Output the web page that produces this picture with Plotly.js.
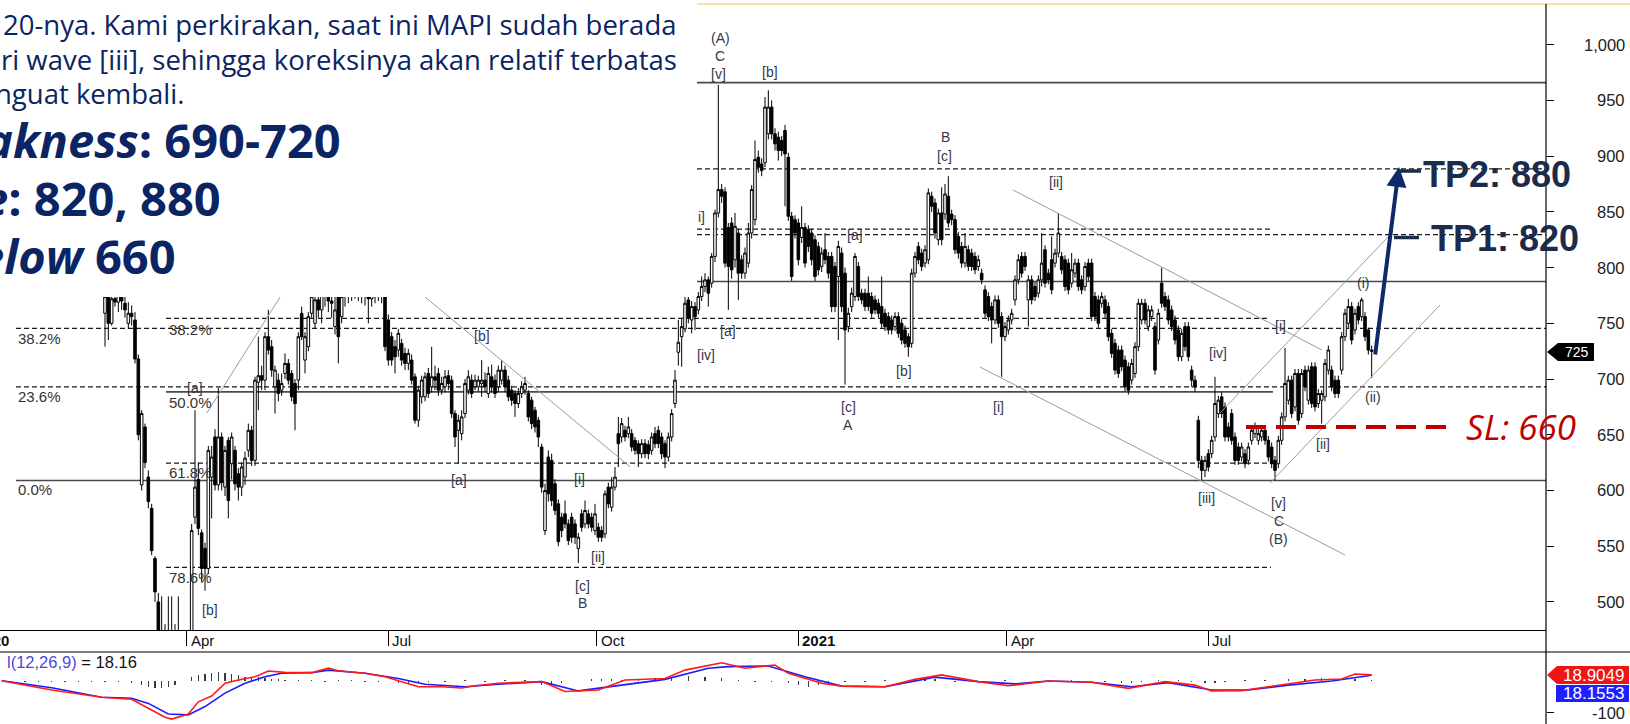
<!DOCTYPE html>
<html><head><meta charset="utf-8">
<script src="https://cdn.plot.ly/plotly-3.0.1.min.js"></script>
<style>html,body{margin:0;padding:0;background:#fff;overflow:hidden}#chart{width:1630px;height:724px}</style>
</head><body><div id="chart"></div>
<script>
// ---------------- DATA ----------------
// daily bars, consecutive sessions (bar index 0 = late Feb 2020)
const openP = [
759,774,750,772,769,775,768,750,759,753, 718,605,657,612,584,539,500,470,450,430,
470,440,455,440,445,450,470,576,610,562, 548,530,612,648,605,648,603,645,624,636,
615,603,612,636,654,627,697,703,699,738, 729,693,699,690,705,714,705,696,699,759,
717,729,759,750,771,762,775,780,770,747, 774,756,774,780,776,785,778,782,775,780,
772,778,774,780,778,753,738,729,726,732, 723,714,717,702,663,684,684,705,693,702,
705,690,693,703,699,669,654,651,669,690, 699,693,693,696,699,687,702,699,693,699,
708,699,690,687,678,687,690,687,681,672, 663,639,564,630,627,606,588,576,579,570,
576,570,548,579,570,579,576,564,567,564, 561,603,585,603,651,648,654,651,651,645,
642,633,642,641,636,651,654,648,642,630, 648,678,724,738,745,771,753,765,762,774,
783,789,786,810,849,870,868,836,840,807, 831,807,795,804,831,843,899,893,894,920,
944,920,917,914,923,899,846,843,840,827, 836,834,831,825,819,801,816,810,810,801,
792,813,795,747,765,774,801,777,777,777, 774,771,768,765,759,756,753,747,756,750,
744,738,732,795,819,813,804,807,864,858, 825,849,848,864,848,843,828,819,804,816,
813,810,801,795,780,774,765,753,771,756, 738,744,753,771,789,810,810,771,789,783,
777,789,816,795,807,804,813,810,807,804, 786,795,804,789,783,804,804,774,771,768,
771,765,741,732,726,726,717,711,699,705, 729,753,768,747,756,747,735,786,774,771,
762,753,744,720,747,747,708,699,663,627, 618,633,633,648,669,684,675,657,669,648,
639,630,633,627,645,651,645,648,654,645, 639,627,624,645,666,681,699,675,705,669,
708,681,711,711,678,681,684,708,708,699, 699,708,738,750,765,744,765,756,756,744,
726];
const highP = [
790,785,790,785,790,786,775,769,766,760, 722,672,660,618,588,541,508,505,480,505,
505,480,505,470,460,475,570,672,625,565, 553,640,640,655,692,652,640,648,652,640,
620,625,635,660,658,702,738,712,742,762, 735,712,705,705,723,718,708,700,742,765,
742,760,785,785,790,790,795,792,785,775, 785,790,795,795,800,798,795,792,790,790,
788,790,792,795,790,758,742,735,745,736, 728,727,722,705,694,703,706,710,729,712,
710,702,708,708,703,672,668,672,700,708, 704,704,703,717,706,711,713,704,712,717,
712,703,694,690,692,698,702,690,684,675, 666,642,606,636,633,610,592,580,591,574,
580,574,562,583,591,583,580,588,571,568, 600,607,612,621,666,665,658,666,655,648,
645,646,646,645,652,657,658,652,645,652, 673,708,753,755,776,776,770,769,778,792,
795,792,813,852,964,875,872,840,845,849, 835,811,818,840,874,914,905,898,953,959,
950,925,922,918,928,903,850,847,844,855, 840,838,835,829,823,818,831,814,814,805,
824,818,800,764,782,813,805,781,781,792, 778,775,772,792,763,760,757,760,760,754,
748,741,799,814,823,817,820,871,868,862, 853,872,875,882,852,847,832,823,831,820,
817,814,811,799,784,778,769,775,775,760, 751,757,763,793,812,814,814,793,793,787,
793,831,820,799,828,817,849,814,811,808, 813,808,808,793,805,808,808,778,775,778,
775,769,745,736,730,730,721,715,718,733, 772,772,772,766,766,751,763,800,778,775,
766,757,748,745,751,751,712,703,667,631, 631,637,649,702,685,688,679,661,673,652,
643,643,637,643,658,661,655,658,658,649, 643,631,649,670,728,703,703,709,709,709,
712,712,715,715,691,690,718,730,712,703, 703,742,763,772,769,763,769,773,760,746,
730];
const lowP = [
729,735,748,765,760,762,755,745,748,714, 645,600,620,584,542,500,460,440,420,415,
430,420,430,413,430,440,465,570,560,518, 510,525,575,600,600,600,595,575,610,600,
591,595,605,630,622,622,672,690,690,722, 702,669,680,685,700,695,680,654,690,735,
705,725,755,745,755,750,765,760,755,740, 714,750,765,768,770,772,770,768,766,750,
765,768,770,768,725,712,712,705,720,712, 708,708,695,660,657,678,680,683,688,690,
685,686,688,690,665,639,624,645,665,686, 683,690,689,684,688,683,688,683,688,695,
688,680,676,666,674,683,686,662,655,652, 639,598,560,590,586,578,550,558,566,551,
553,552,535,563,566,566,563,560,554,554, 557,584,581,600,621,643,644,647,635,632,
621,629,629,628,632,638,638,628,620,626, 644,674,712,711,742,750,741,744,758,770,
778,765,782,805,845,858,800,762,790,800, 771,790,790,800,826,838,885,882,890,915,
915,905,896,900,855,842,788,826,802,822, 800,814,802,788,793,796,803,790,760,760,
735,760,695,742,760,770,770,767,761,761, 755,758,755,746,743,740,740,743,737,731,
728,720,728,791,803,797,800,803,850,826, 820,820,843,836,838,812,808,800,800,797,
797,794,797,785,755,752,732,749,746,702, 734,740,749,766,785,791,797,747,767,770,
773,783,782,785,776,800,809,794,779,776, 782,791,779,776,779,788,752,752,746,764,
755,734,719,704,701,707,689,686,695,701, 725,749,749,743,752,704,731,764,761,749,
743,731,716,716,725,716,693,688,620,609, 612,617,629,644,665,665,644,644,641,623,
623,626,620,623,641,647,641,644,641,626, 620,609,620,641,662,677,665,671,659,665,
689,677,674,671,674,660,680,704,689,683, 683,704,734,746,731,740,749,752,734,722,
701];
const closeP = [
774,750,772,769,775,770,762,759,756,718, 650,669,625,590,546,509,470,450,430,470,
440,460,440,445,450,470,564,603,566,530, 530,636,630,605,648,607,636,591,648,606,
603,621,629,654,627,699,703,699,738,726, 708,708,687,696,714,699,684,678,738,738,
738,756,774,771,762,775,780,770,768,762, 738,774,780,776,785,778,782,775,780,772,
778,774,780,776,729,717,717,720,741,717, 714,723,699,663,690,699,702,687,702,699,
690,696,702,696,669,648,663,666,696,702, 687,699,699,699,693,705,693,687,708,708,
693,684,681,678,687,693,696,666,660,657, 648,603,600,597,591,582,554,564,570,555,
558,558,558,567,582,570,567,579,558,558, 597,588,603,612,642,660,648,657,639,636,
633,642,633,633,648,642,642,633,630,648, 669,699,733,747,768,755,765,756,774,783,
789,777,810,849,870,864,804,801,798,837, 795,795,813,831,870,897,890,887,944,944,
920,911,905,905,902,846,792,831,807,836, 804,819,807,792,798,813,807,795,765,765,
819,765,744,759,777,810,774,771,765,765, 759,762,759,750,747,744,744,756,741,735,
732,729,795,810,807,801,816,867,855,831, 849,825,866,840,843,816,813,804,819,801,
801,798,807,789,759,756,753,771,750,738, 747,753,759,789,807,795,801,789,771,774,
789,804,786,789,780,813,831,798,783,780, 798,804,783,780,801,792,756,756,750,774,
759,738,723,708,705,711,693,690,714,729, 768,768,753,762,762,708,759,768,765,753,
747,735,720,741,729,720,699,693,627,618, 627,621,645,678,681,669,648,648,645,627,
627,639,624,639,654,657,651,654,645,630, 624,618,645,666,696,699,669,705,663,705,
693,708,678,675,687,687,714,726,693,687, 687,738,759,765,735,759,753,771,738,726,
725];
const barIndex = closeP.map((_, i) => i);

// session index where each quarter starts, and its label
const quarterIdx = [24.5, 85, 147.5, 208, 270.5, 331];
const quarterLabels = ['Apr', 'Jul', 'Oct', '<b>2021</b>', 'Apr', 'Jul'];

// MACD(12,26,9)
const macdIdx = [-31,-16,-1,8,13,18,20,25,28,32,36,40,45,49,54,62,67,70,78,84,94,101,107,111,118,
  131,138,148,156,168,174,185,192,201,205,215,221,234,243,251,262,271,283,296,307,318,327,332,341,352,363,371,375,380];
const macdVal = [1,-28,-51,-57,-85,-113,-119,-103,-65,-47,-7,3,13,31,27,26,40,32,24,13,-18,-18,-22,-15,-7,
  -2,-33,-28,3,8,34,57,40,50,24,-7,-16,-18,5,19,-2,-15,0,-4,-23,-2,-13,-31,-30,-13,3,6,22,19];
const signalIdx = [-31,-16,-1,8,13,19,25,30,36,42,48,53,62,67,78,88,96,108,118,
  131,142,152,168,181,187,199,210,221,234,249,262,273,283,296,308,319,332,343,355,368,380];
const signalVal = [1,-21,-51,-54,-70,-103,-106,-80,-38,-7,13,24,26,34,24,8,-10,-18,-10,
  -2,-31,-18,5,40,45,47,13,-16,-18,12,-2,-9,0,-4,-18,-5,-28,-28,-13,0,18];
const histIdx = [-28,-24,-20,-16,-12,-8,-4,0,4,8, 11,13,15,17,19,21, 26,28,30,32,34,36,38,40,42,44,46,48,50,52,54,
  58,62,66,70,74,78,82, 88,91,94,97, 102,108,114,120,126, 131,134,137, 146,149,152,155, 160,165,170,175,180,185,190,
  195,200, 205,208,211,214,217, 222,228,234, 243,246,249, 255,262,270,280,290,300, 305,308,311, 316,322,326,
  330,333,336, 342,348,355,360,365,370,375,380];
const histVal = [-2,-2,-3,-3,-2,-2,-3,-2,-4,-6, -11,-18,-21,-21,-18,-11, 11,18,21,25,27,25,21,18,14,13,11,9,7,6,4,
  2,2,-2,2,2,-2,-2, -6,-7,-6,-4, -2,2,-2,2,2, -11,-11,-7, 7,7,6,4, 6,9,13,16,14,9,4,
  -2,-4, -7,-14,-18,-14,-9, -4,-2,2, 6,9,6, -2,-2,2,-2,2,-2, -6,-6,-4, 2,2,-2,
  -7,-7,-4, 2,4,6,7,9,7,6,2];

const priceTicks = [500, 550, 600, 650, 700, 750, 800, 850, 900, 950, 1000];
const priceTickText = ['500','550','600','650','700','750','800','850','900','950','1,000'];
const lastPrice = '725', macdLast = '18.9049', signalLast = '18.1553';
// analysis levels
const solidLevels = [966, 787.5, 688.5, 609];
const dashedLevels = [888.5, 834.5, 829.5, 754.5, 745.5, 693, 624.5, 531];
const stopLoss = 657;

// ---------------- LAYOUT HELPERS (pixel -> paper) ----------------
const W = 1630, H = 724, PR = 1546;
const px = x => x / PR;
const py = y => 1 - y / H;
const LBL = 'Liberation Sans, Arial, sans-serif';

const shapes = [];
const ann = [];
function hline(val, x0, x1, dash, color, width) {
  shapes.push({type:'line', xref:'paper', yref:'y', x0:px(x0), x1:px(x1), y0:val, y1:val,
    line:{color:color, width:width, dash:dash}, layer:'below'});
}
// level lines with their horizontal extents
hline(solidLevels[0], 697, 1546, 'solid', '#4a4a4a', 1.8);
hline(solidLevels[1], 697, 1546, 'solid', '#4a4a4a', 1.6);
hline(solidLevels[2], 166, 1273, 'solid', '#4a4a4a', 1.6);
hline(solidLevels[3], 16, 1546, 'solid', '#4a4a4a', 1.6);
const dashExt = [[697,1546],[697,1270],[697,1546],[166,1267],[16,1546],[16,1546],[166,1279],[166,1271]];
dashedLevels.forEach((v, k) => hline(v, dashExt[k][0], dashExt[k][1], '5px,3px', '#1a1a1a', 1.2));

// trend / channel lines
[[206.7,413.3,282,294],[425,297,630,466.7],[1013,190,1322,350],[980,367,1345,555],[1220,413,1388,237],[1270,483,1440,305]]
  .forEach(l => shapes.push({type:'line', xref:'paper', yref:'paper', x0:px(l[0]), y0:py(l[1]), x1:px(l[2]), y1:py(l[3]),
    line:{color:'#9c9c9c', width:1}, layer:'above'}));

// white panel over the top-left corner (slide text box)
shapes.push({type:'rect', xref:'paper', yref:'paper', x0:px(-5), x1:px(697), y0:py(297), y1:py(-5),
  fillcolor:'#ffffff', line:{width:0}, layer:'above'});
// frame lines
shapes.push({type:'line', xref:'paper', yref:'paper', x0:px(697), x1:px(1632), y0:py(4), y1:py(4), line:{color:'#f7d98c', width:1.6}, layer:'above'});
shapes.push({type:'line', xref:'paper', yref:'paper', x0:px(1546), x1:px(1546), y0:py(4), y1:py(726), line:{color:'#000', width:1.2}, layer:'above'});
shapes.push({type:'line', xref:'paper', yref:'paper', x0:px(-2), x1:px(1632), y0:py(652), y1:py(652), line:{color:'#000', width:1.2}, layer:'above'});

// stop loss line
shapes.push({type:'line', xref:'paper', yref:'y', x0:px(1246), x1:px(1456), y0:stopLoss, y1:stopLoss,
  line:{color:'#c00000', width:4, dash:'20px,10px'}, layer:'above'});
// TP ticks
shapes.push({type:'line', xref:'paper', yref:'paper', x0:px(1399), x1:px(1421), y0:py(171), y1:py(171), line:{color:'#1c2b4a', width:3.5}, layer:'above'});
shapes.push({type:'line', xref:'paper', yref:'paper', x0:px(1394), x1:px(1419), y0:py(237.5), y1:py(237.5), line:{color:'#1c2b4a', width:3.5}, layer:'above'});

// price / macd tags
function tagPath(tip, y0, y1, xl, xr) {
  const ym = (y0 + y1) / 2;
  return 'M ' + px(tip) + ' ' + py(ym) + ' L ' + px(xl) + ' ' + py(y0) + ' L ' + px(xr) + ' ' + py(y0) +
         ' L ' + px(xr) + ' ' + py(y1) + ' L ' + px(xl) + ' ' + py(y1) + ' Z';
}
shapes.push({type:'path', xref:'paper', yref:'paper', path:tagPath(1547, 343, 361, 1558, 1594), fillcolor:'#000', line:{width:0}, layer:'above'});
shapes.push({type:'path', xref:'paper', yref:'paper', path:tagPath(1547, 666, 684, 1557, 1629), fillcolor:'#f01414', line:{width:0}, layer:'above'});
shapes.push({type:'rect', xref:'paper', yref:'paper', x0:px(1556), x1:px(1629), y0:py(685), y1:py(702), fillcolor:'#1f1fff', line:{width:0}, layer:'above'});

function note(text, x, y, opts) {
  ann.push(Object.assign({text:text, xref:'paper', yref:'paper', x:px(x), y:py(y), showarrow:false,
    xanchor:'center', yanchor:'middle', font:{family:LBL, size:14, color:'#34384a'}}, opts || {}));
}

// slide text (left)
const navy = '#0b2463';
note('20-nya. Kami perkirakan, saat ini MAPI sudah berada', 679, 24, {xanchor:'right', font:{family:'Open Sans', size:27.5, color:navy}});
note('ri wave [iii], sehingga koreksinya akan relatif terbatas', 679, 59, {xanchor:'right', font:{family:'Open Sans', size:27.5, color:navy}});
note('nguat kembali.', 186, 94, {xanchor:'right', font:{family:'Open Sans', size:27.5, color:navy}});
note('<b><i>akness</i>: 690-720</b>', 343, 140, {xanchor:'right', font:{family:'Open Sans', size:47, color:navy}});
note('<b><i>e</i>: 820, 880</b>', 223, 198, {xanchor:'right', font:{family:'Open Sans', size:47, color:navy}});
note('<b><i>elow</i> 660</b>', 178, 256, {xanchor:'right', font:{family:'Open Sans', size:47, color:navy}});

// targets
note('<b>TP2: 880</b>', 1421, 174, {xanchor:'left', font:{family:LBL, size:36, color:'#1c2b4a'}});
note('<b>TP1: 820</b>', 1429, 238.5, {xanchor:'left', font:{family:LBL, size:36, color:'#1c2b4a'}});
note('<i>SL: 660</i>', 1464, 426, {xanchor:'left', font:{family:'Open Sans', size:35, color:'#c00000'}});
ann.push({text:'', xref:'paper', yref:'paper', x:px(1399), y:py(167), ax:-24, ay:189, showarrow:true,
  arrowhead:2, arrowsize:1, arrowwidth:4, arrowcolor:'#0c2a6b', standoff:0});

// wave labels
[['(A)',720,38.5],['C',720,56],['[v]',718,74],['[b]',770,72],['B',945,137],['[c]',944,156],['[ii]',1056,182],
 ['i]',701,217],['[a]',855,235],['[a]',728,331],['[iv]',706,355],['[b]',904,371],['[c]',848,407],['A',848,425],
 ['[i]',999,407],['[iv]',1218,353],['[i]',1280,326],['(i)',1363,283],['(ii)',1373,397],['[ii]',1323,444],
 ['[iii]',1206,498],['[v]',1278,503],['C',1279,521],['(B)',1278,539],['[b]',482,336],['[a]',459,480],
 ['[i]',579,479],['[ii]',598,557],['[c]',582,586],['B',582,603],['[a]',195,388],['[b]',210,610]]
  .forEach(w => note(w[0], w[1], w[2]));

// fibonacci labels
[['38.2%',16,338],['23.6%',16,396],['0.0%',16,489],['38.2%',167,329],['50.0%',167,402],['61.8%',167,472],['78.6%',167,577]]
  .forEach(f => note(f[0], f[1], f[2], {xanchor:'left', font:{family:LBL, size:15, color:'#333'}}));

// price axis labels (right aligned)
priceTicks.forEach((v, k) => ann.push({text:priceTickText[k], xref:'paper', yref:'y', x:px(1627), y:v,
  xanchor:'right', yanchor:'middle', showarrow:false, font:{family:LBL, size:16.5, color:'#222'}}));
ann.push({text:'-100', xref:'paper', yref:'y2', x:px(1627), y:-100, xanchor:'right', yanchor:'middle', showarrow:false,
  font:{family:LBL, size:16.5, color:'#222'}});
note(lastPrice, 1577, 352, {font:{family:LBL, size:14, color:'#fff'}});
note(macdLast, 1593, 675, {font:{family:LBL, size:17, color:'#fff'}});
note(signalLast, 1593, 693.5, {font:{family:LBL, size:17, color:'#fff'}});

// date labels
quarterIdx.forEach((q, k) => ann.push({text:quarterLabels[k], xref:'x', yref:'paper', x:q, y:py(640), xshift:2,
  xanchor:'left', yanchor:'middle', showarrow:false, font:{family:LBL, size:15, color:'#111'}}));
note('<b>2020</b>', 11, 640, {xanchor:'right', font:{family:LBL, size:15, color:'#111'}});
// MACD title
note('<span style="color:#4b48d8">l(12,26,9)</span> = 18.16', 139, 662, {xanchor:'right', font:{family:LBL, size:16.5, color:'#111'}});

// ---------------- TRACES ----------------
const traces = [
  {type:'candlestick', x:barIndex, open:openP, high:highP, low:lowP, close:closeP, xaxis:'x', yaxis:'y',
   increasing:{line:{color:'#000', width:1}, fillcolor:'#ffffff'},
   decreasing:{line:{color:'#000', width:1}, fillcolor:'#000000'},
   whiskerwidth:0, hoverinfo:'skip', showlegend:false},
  {type:'bar', x:histIdx, y:histVal, xaxis:'x', yaxis:'y2', width:0.35, marker:{color:'#3a3a3a', line:{width:0}},
   hoverinfo:'skip', showlegend:false},
  {type:'scatter', mode:'lines', x:signalIdx, y:signalVal, xaxis:'x', yaxis:'y2', line:{color:'#1a1aff', width:1.6},
   hoverinfo:'skip', showlegend:false},
  {type:'scatter', mode:'lines', x:macdIdx, y:macdVal, xaxis:'x', yaxis:'y2', line:{color:'#ff1a1a', width:1.6},
   hoverinfo:'skip', showlegend:false}
];

const layout = {
  width:W, height:H, margin:{l:0, r:W-PR, t:0, b:0}, paper_bgcolor:'#fff', plot_bgcolor:'#fff',
  showlegend:false, boxgap:0.15, boxgroupgap:0.1, bargap:0,
  xaxis:{range:[-31.5, 432.3], domain:[0,1], anchor:'y', rangeslider:{visible:false}, showgrid:false, zeroline:false,
    showline:true, linecolor:'#000', linewidth:1.2, ticks:'outside', ticklen:15, tickwidth:1, tickcolor:'#000',
    tickvals:quarterIdx, showticklabels:false, fixedrange:true},
  yaxis:{domain:[1-630/H, 1-4/H], range:[474.8, 1036.5], side:'right', anchor:'x', showgrid:false, zeroline:false,
    ticks:'outside', ticklen:7, tickwidth:1, tickcolor:'#000', tickvals:priceTicks, showticklabels:false, showline:false},
  yaxis2:{domain:[0, 1-652/H], range:[-134.4, 90.6], side:'right', anchor:'x', showgrid:false, zeroline:false,
    ticks:'outside', ticklen:7, tickwidth:1, tickcolor:'#000', tickvals:[-100], showticklabels:false, showline:false},
  shapes:shapes, annotations:ann
};

Plotly.newPlot('chart', traces, layout, {staticPlot:true, displayModeBar:false});
</script>
</body></html>
